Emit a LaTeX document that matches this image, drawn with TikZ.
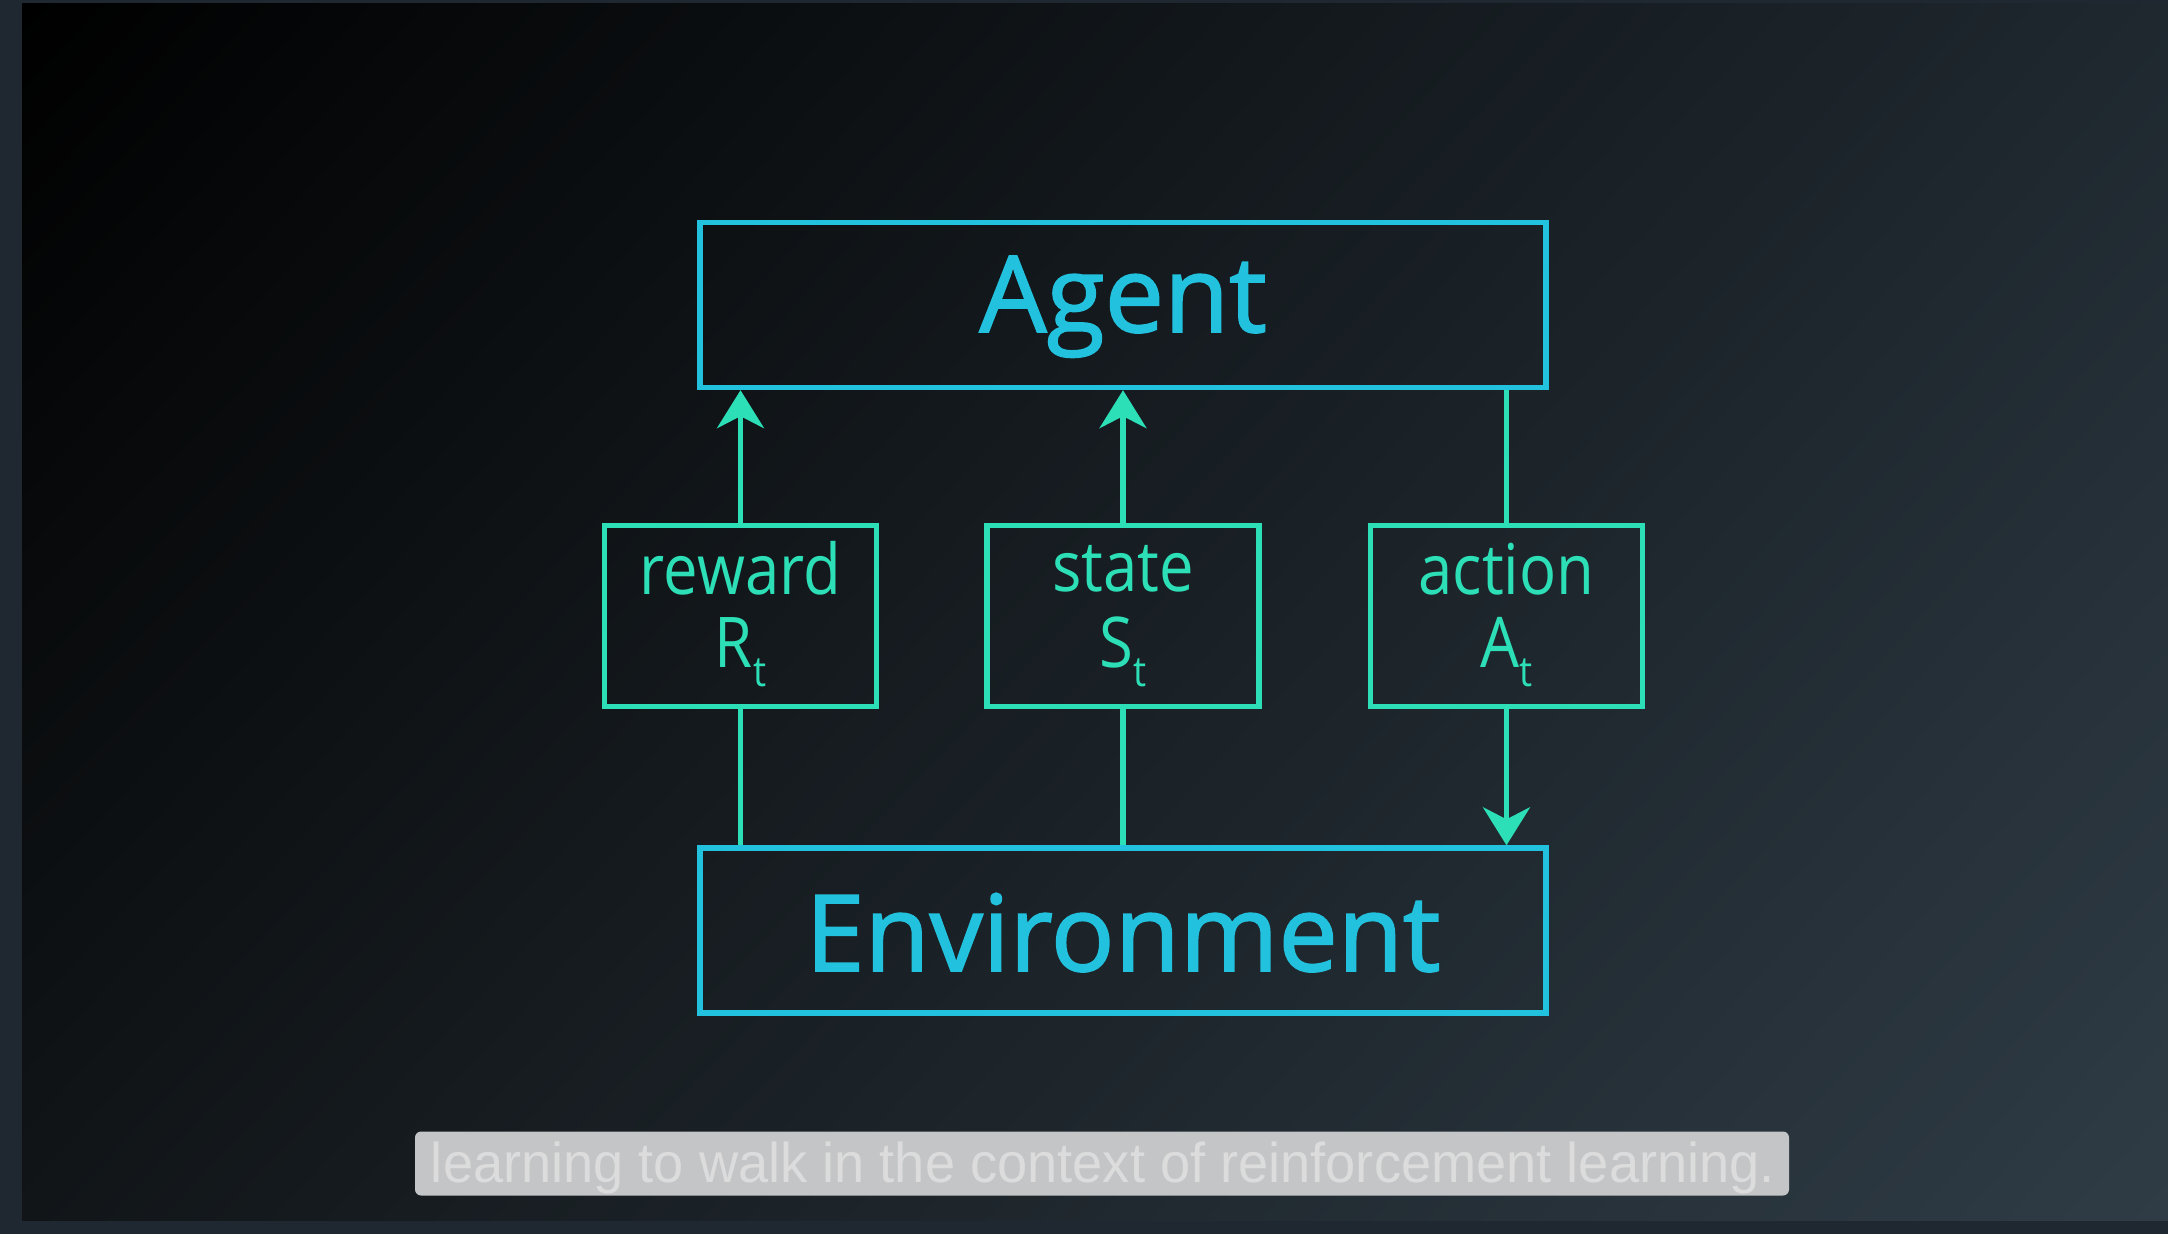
\documentclass[tikz,border=0pt]{standalone}
\usepackage{fontspec}
\setmainfont{Open Sans}
\newfontfamily\semifont{Open Sans}[FakeBold=1.6]
\newfontfamily\narrowfont{Open Sans}[FakeStretch=0.88]
\newfontfamily\subfont{Liberation Sans}
\usetikzlibrary{arrows.meta,shadings}
\definecolor{cyanc}{HTML}{22C2DE}
\definecolor{greenc}{HTML}{2CDFB6}
\definecolor{framec}{HTML}{1F2830}
\definecolor{subbg}{HTML}{C4C5C6}
\definecolor{subtx}{HTML}{DCDCDC}
\definecolor{bgTL}{HTML}{000000}
\definecolor{bgTR}{HTML}{1F282F}
\definecolor{bgBL}{HTML}{111518}
\definecolor{bgBR}{HTML}{2F3C46}
\begin{document}
\begin{tikzpicture}[x=0.5pt,y=-0.5pt,
  bigbox/.style={draw=cyanc,line width=2.7pt,minimum width=423pt,minimum height=82.5pt,inner sep=0pt},
  smallbox/.style={draw=greenc,line width=2.7pt,minimum width=136pt,minimum height=90.5pt,inner sep=0pt},
  bigtxt/.style={text=cyanc,font=\semifont\fontsize{53}{60}\selectfont,inner sep=0pt,anchor=base},
  smalltxt/.style={text=greenc,font=\narrowfont\fontsize{35}{40}\selectfont,inner sep=0pt,anchor=base},
  conn/.style={draw=greenc,line width=2.7pt},
  arr/.style={conn,-{Stealth[length=19pt,width=23.5pt,inset=6pt]}},
  subboxst/.style={fill=subbg,rounded corners=3pt,minimum width=687pt,minimum height=32pt,inner sep=0pt},
  subtxt/.style={text=subtx,inner sep=0pt,anchor=base}
]
\useasboundingbox (0,0) rectangle (2168,1234);
\fill[framec] (0,0) rectangle (2168,1234);
\shade[upper left=bgTL,upper right=bgTR,lower left=bgBL,lower right=bgBR] (22,4) rectangle (2168,1220);

\node[bigbox] (agent) at (1123,305) {};
\node[bigbox] (env) at (1123,930.5) {};
\node[smallbox] (rbox) at (740.5,616) {};
\node[smallbox] (sbox) at (1123,616) {};
\node[smallbox] (abox) at (1506.5,616) {};

\node[bigtxt] (agentlbl) at (1123,332) {Agent};
\node[bigtxt] (envlbl) at (1123,971) {Environment};

\node[smalltxt] (rlbl) at (740.5,595) {reward};
\node[smalltxt] (rsym) at (740.5,668) {R\raisebox{-9.5pt}{\fontsize{21}{24}\selectfont t}};
\node[smalltxt] (slbl) at (1123,592) {state};
\node[smalltxt] (ssym) at (1123,668) {S\raisebox{-9.5pt}{\fontsize{21}{24}\selectfont t}};
\node[smalltxt] (albl) at (1506.5,595) {action};
\node[smalltxt] (asym) at (1506.5,668) {A\raisebox{-9.5pt}{\fontsize{21}{24}\selectfont t}};

\draw[arr] (rbox.north) -- (rbox.north |- agent.south);
\draw[conn] (rbox.south |- env.north) -- (rbox.south);
\draw[arr] (sbox.north) -- (sbox.north |- agent.south);
\draw[conn] (sbox.south |- env.north) -- (sbox.south);
\draw[conn] (abox.north |- agent.south) -- (abox.north);
\draw[arr] (abox.south) -- (abox.south |- env.north);

\node[subboxst] (sub) at (1102,1163.5) {};
\node[subtxt] (subl) at (1103,1182) {\resizebox{672pt}{\height}{\subfont\fontsize{28}{30}\selectfont learning to walk in the context of reinforcement learning.}};
\end{tikzpicture}
\end{document}
